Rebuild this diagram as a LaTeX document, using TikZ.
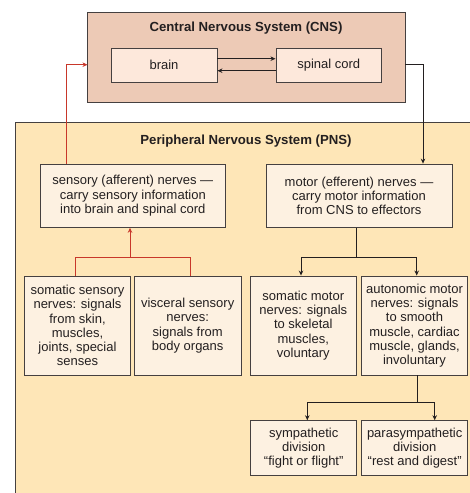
\documentclass[tikz,border=0pt]{standalone}
\usepackage{fontspec}
\setmainfont{Liberation Sans}
\usetikzlibrary{arrows.meta,calc}
\definecolor{cnsfill}{HTML}{EDCAB6}
\definecolor{cnsbox}{HTML}{FDE8DB}
\definecolor{pnsfill}{HTML}{FEE6B7}
\definecolor{pnsbox}{HTML}{FDF1E1}
\definecolor{edge}{HTML}{454040}
\definecolor{nred}{HTML}{C8372A}
\definecolor{ink}{HTML}{231F20}
\tikzset{
  box/.style={draw=edge, line width=0.9pt, inner sep=0pt, align=center, text=ink,
    font=\fontsize{13}{14.3}\selectfont},
  cbox/.style={box, fill=cnsbox},
  pbox/.style={box, fill=pnsbox},
  title/.style={font=\bfseries\fontsize{13.2}{14.3}\selectfont, text=ink},
  conn/.style={draw=ink, line width=0.9pt},
  redconn/.style={draw=nred, line width=0.9pt},
  tip/.style={-{Stealth[length=5pt,width=4.5pt]}},
}
\begin{document}
\begin{tikzpicture}[x=1pt,y=-1pt]
\useasboundingbox (0,0) rectangle (470,493);
% PNS background (cropped at right and bottom)
\fill[pnsfill] (15.7,122.7) rectangle (475,498);
\draw[edge, line width=0.9pt] (15.7,498) -- (15.7,122.7) -- (475,122.7);
\node[title] (pnstitle) at (246,140.7) {Peripheral Nervous System (PNS)};
% CNS
\node[draw=edge, line width=0.9pt, fill=cnsfill, minimum width=317.5pt, minimum height=90.4pt, inner sep=0pt] (cns) at (246.25,57.5) {};
\node[title] (cnstitle) at (246,28.5) {Central Nervous System (CNS)};
\node[cbox, minimum width=106pt, minimum height=34pt] (brain) at (164,65) {brain};
\node[cbox, minimum width=105.7pt, minimum height=34pt] (spinal) at (328.8,65) {spinal cord};
% PNS boxes
\node[pbox, minimum width=185.7pt, minimum height=63.3pt] (sensory) at (132.8,195.7)
  {sensory (afferent) nerves ---\\carry sensory information\\into brain and spinal cord};
\node[pbox, minimum width=186pt, minimum height=63.3pt] (motor) at (359,195.7)
  {motor (efferent) nerves ---\\carry motor information\\from CNS to effectors};
\node[pbox, minimum width=106.4pt, minimum height=99pt] (somsens) at (77.5,325.5)
  {somatic sensory\\nerves: signals\\from skin,\\muscles,\\joints, special\\senses};
\node[pbox, minimum width=106.7pt, minimum height=99pt] (visc) at (187.7,325.5)
  {visceral sensory\\nerves:\\signals from\\body organs};
\node[pbox, minimum width=106pt, minimum height=99pt] (sommot) at (303.3,325.5)
  {somatic motor\\nerves: signals\\to skeletal\\muscles,\\voluntary};
\node[pbox, minimum width=106.4pt, minimum height=99pt] (auto) at (414.5,325.5)
  {autonomic motor\\nerves: signals\\to smooth\\muscle, cardiac\\muscle, glands,\\involuntary};
\node[pbox, minimum width=106pt, minimum height=54.6pt] (symp) at (303.7,448)
  {sympathetic\\division\\``fight or flight''};
\node[pbox, minimum width=106pt, minimum height=54.6pt] (para) at (414.7,448)
  {parasympathetic\\division\\``rest and digest''};
% connectors
\draw[conn,tip] ([yshift=6.3pt]brain.east) -- ([yshift=6.3pt]spinal.west);
\draw[conn,tip] ([yshift=-5.7pt]spinal.west) -- ([yshift=-5.7pt]brain.east);
\coordinate (cnsin) at (87.5,64.7);
\coordinate (cnsout) at (405,64.7);
\draw[redconn,tip] ([xshift=-66.8pt]sensory.north) |- (cnsin);
\draw[conn,tip] (cnsout) -| ([xshift=64pt]motor.north);
\coordinate (rj) at (130,257.3);
\draw[redconn] (somsens.north -| 75,0) |- (rj) -| (visc.north -| 190.7,0);
\draw[redconn,tip] (rj) -- (sensory.south -| rj);
\coordinate (mj) at (356.7,257.3);
\draw[conn] (motor.south -| mj) -- (mj);
\draw[conn,tip] (mj) -| (sommot.north -| 301,0);
\draw[conn,tip] (mj) -| (auto.north -| 416.7,0);
\coordinate (aj) at (417.7,402.3);
\draw[conn] (auto.south -| aj) -- (aj);
\draw[conn,tip] (aj) -| (symp.north -| 307.3,0);
\draw[conn,tip] (aj) -| (para.north -| 434.7,0);
\end{tikzpicture}
\end{document}
